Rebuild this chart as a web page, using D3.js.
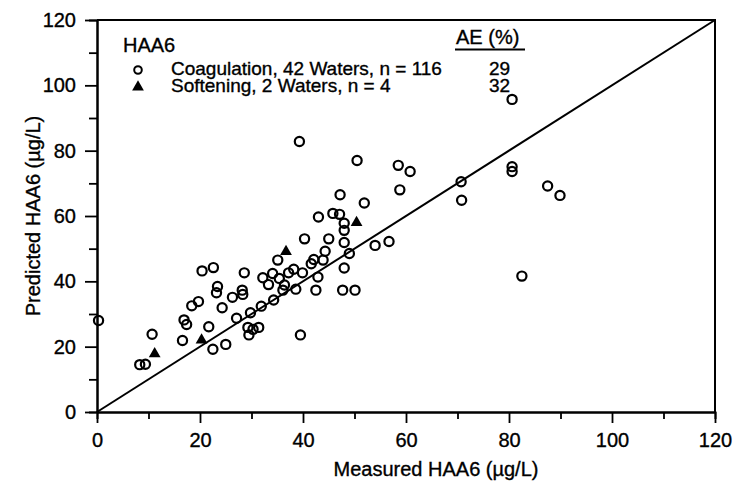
<!DOCTYPE html>
<html><head>
<meta charset="utf-8"/>
<script src="https://d3js.org/d3.v7.min.js"></script>
<style>
  body { margin: 0; padding: 0; background: #fff; }
  svg text { font-family: 'Liberation Sans', Arial, sans-serif; fill: #000; stroke: #000; stroke-width: 0.35px; }
</style>
</head>
<body>
<div id="chart"></div>
<script>
// Coagulation, 42 waters (measured vs predicted HAA6, ug/L)
const coagMeasured = [0.3, 8.3, 9.4, 10.7, 16.6, 16.9, 17.4, 18.4, 19.7, 20.4, 22.6, 21.7, 22.5, 23.4, 23.2,
  24.3, 25.0, 26.3, 27.1, 28.2, 28.3, 28.6, 29.3, 29.5, 29.8, 30.3, 31.4, 31.9, 32.2, 33.3,
  34.1, 34.3, 35.1, 35.4, 36.1, 36.4, 37.2, 38.2, 38.6, 39.5, 39.3, 39.9, 40.3, 41.6, 42.1,
  42.5, 42.9, 43.0, 43.9, 44.3, 45.0, 45.8, 47.1, 47.2, 47.7, 48.0, 48.0, 48.0, 48.0, 49.0,
  50.1, 50.5, 51.9, 54.0, 56.7, 58.5, 58.8, 60.8, 70.7, 70.8, 80.6, 80.6, 80.6, 82.5, 87.5, 89.9];
const coagPredicted = [28.0, 14.5, 14.6, 23.8, 21.9, 28.2, 26.8, 32.5, 33.8, 43.2, 44.2, 26.1, 19.2, 38.4, 36.5,
  31.9, 20.7, 35.1, 28.7, 37.3, 36.0, 42.6, 25.9, 23.6, 30.4, 25.3, 25.9, 32.4, 41.1, 39.0,
  42.4, 34.3, 46.5, 40.9, 37.3, 38.9, 42.6, 43.7, 37.6, 23.6, 82.8, 42.6, 53.0, 45.4, 46.7,
  37.3, 41.3, 59.7, 46.5, 49.2, 53.0, 60.8, 60.5, 66.5, 37.3, 57.8, 55.6, 51.9, 44.1, 48.5,
  37.3, 77.0, 64.0, 51.0, 52.2, 75.5, 68.0, 73.6, 70.5, 64.8, 95.7, 75.1, 73.6, 41.6, 69.2, 66.3];

// Softening, 2 waters
const softMeasured = [11.2, 20.3, 36.7, 50.4];
const softPredicted = [17.8, 22.0, 49.1, 58.0];

const xTicks = [0, 20, 40, 60, 80, 100, 120];
const yTicks = [0, 20, 40, 60, 80, 100, 120];
const minorTicks = [10, 30, 50, 70, 90, 110];

const legendRows = ["Coagulation, 42 Waters, n = 116", "Softening, 2 Waters, n = 4"];
const aeValues = ["29", "32"];

const W = 734, H = 487;
const svg = d3.select("#chart").append("svg")
  .attr("width", W).attr("height", H);

const x = d3.scaleLinear().domain([0, 120]).range([97, 715]);
const y = d3.scaleLinear().domain([0, 120]).range([412, 20]);

// frame (top and right)
svg.append("path")
  .attr("d", `M${x(0)},${y(120)}H${x(120)}V${y(0)}`)
  .attr("fill", "none").attr("stroke", "#000").attr("stroke-width", 2);

// x axis
const gx = svg.append("g").attr("transform", `translate(0,${y(0)})`);
gx.call(d3.axisBottom(x).tickValues(xTicks).tickSize(11).tickSizeOuter(0).tickPadding(6));
gx.append("g").call(d3.axisBottom(x).tickValues(minorTicks).tickSize(7).tickFormat(""));

// y axis
const gy = svg.append("g").attr("transform", `translate(${x(0)},0)`);
gy.call(d3.axisLeft(y).tickValues(yTicks).tickSize(12).tickSizeOuter(0).tickPadding(9));
gy.append("g").call(d3.axisLeft(y).tickValues(minorTicks).tickSize(8).tickFormat(""));

svg.selectAll(".domain").attr("stroke", "#000").attr("stroke-width", 2);
svg.selectAll(".tick line").attr("stroke", "#000").attr("stroke-width", 1.8);
svg.selectAll(".tick text").style("font-size", "20px").attr("fill", "#000");
gx.selectAll(".tick text").attr("dy", "0.9em");

// axis titles
svg.append("text")
  .attr("x", (x(0) + x(120)) / 2 + 30).attr("y", 476)
  .attr("text-anchor", "middle").style("font-size", "20px")
  .text("Measured HAA6 (µg/L)");
svg.append("text")
  .attr("transform", `translate(40,${(y(0) + y(120)) / 2}) rotate(-90)`)
  .attr("text-anchor", "middle").style("font-size", "20px")
  .text("Predicted HAA6 (µg/L)");

// 1:1 line
svg.append("line")
  .attr("x1", x(0)).attr("y1", y(0)).attr("x2", x(120)).attr("y2", y(120))
  .attr("stroke", "#000").attr("stroke-width", 2);

// coagulation points
const coag = coagMeasured.map((m, i) => ({ m, p: coagPredicted[i] }));
svg.selectAll(".coag").data(coag).enter().append("circle")
  .attr("class", "coag")
  .attr("cx", d => x(d.m)).attr("cy", d => y(d.p)).attr("r", 4.6)
  .attr("fill", "none").attr("stroke", "#000").attr("stroke-width", 2.2);

// softening points
const soft = softMeasured.map((m, i) => ({ m, p: softPredicted[i] }));
const tri = d3.symbol().type(d3.symbolTriangle).size(60);
svg.selectAll(".soft").data(soft).enter().append("path")
  .attr("class", "soft")
  .attr("transform", d => `translate(${x(d.m)},${y(d.p)})`)
  .attr("d", tri).attr("fill", "#000");

// legend
const lg = svg.append("g");
lg.append("text").attr("x", 123).attr("y", 52).style("font-size", "20px").text("HAA6");
lg.append("text").attr("x", 456).attr("y", 44).style("font-size", "20px").text("AE (%)");
lg.append("line").attr("x1", 455).attr("x2", 525).attr("y1", 49.5).attr("y2", 49.5)
  .attr("stroke", "#000").attr("stroke-width", 1.8);
legendRows.forEach((t, i) => {
  const by = 75 + i * 17;
  lg.append("text").attr("x", 171).attr("y", by).style("font-size", "19px").text(t);
  lg.append("text").attr("x", 489).attr("y", by).style("font-size", "19px").text(aeValues[i]);
});
lg.append("circle").attr("cx", 138).attr("cy", 70).attr("r", 3.8)
  .attr("fill", "none").attr("stroke", "#000").attr("stroke-width", 2);
lg.append("path").attr("transform", "translate(138,87)").attr("d", tri).attr("fill", "#000");
</script>
</body></html>
